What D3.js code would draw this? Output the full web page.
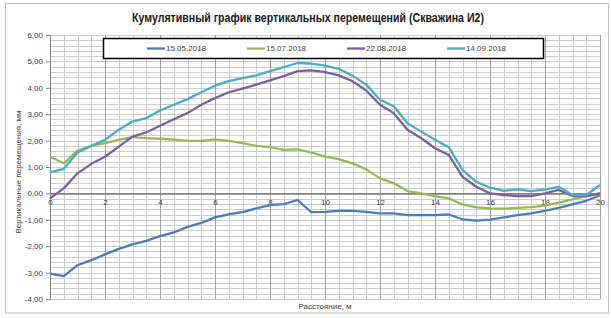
<!DOCTYPE html>
<html>
<head>
<meta charset="utf-8">
<script src="https://cdn.jsdelivr.net/npm/d3@7"></script>
<style>
body { margin: 0; background: #fff; }
text { font-family: "Liberation Sans", Arial, sans-serif; }
</style>
</head>
<body>
<svg width="611" height="318"></svg>
<script>
// distance along the borehole, m
var distance = [0, 0.5, 1, 1.5, 2, 2.5, 3, 3.5, 4, 4.5, 5, 5.5, 6, 6.5, 7, 7.5, 8, 8.5, 9, 9.5, 10,
    10.5, 11, 11.5, 12, 12.5, 13, 13.5, 14, 14.5, 15, 15.5, 16, 16.5, 17, 17.5, 18, 18.5, 19, 19.5, 20];

var dates = ["15.05.2018", "15.07.2018", "22.08.2018", "14.09.2018"];

var s0515 = [-3.04, -3.13, -2.72, -2.53, -2.31, -2.10, -1.93, -1.80, -1.62, -1.48, -1.27,
    -1.12, -0.91, -0.79, -0.71, -0.57, -0.44, -0.41, -0.25, -0.71, -0.70,
    -0.66, -0.66, -0.70, -0.76, -0.76, -0.82, -0.82, -0.82, -0.80, -0.98,
    -1.03, -0.99, -0.91, -0.82, -0.76, -0.66, -0.55, -0.42, -0.28, -0.07];
var s0715 = [1.39, 1.14, 1.62, 1.80, 1.90, 2.03, 2.13, 2.09, 2.07, 2.04, 2.00,
    1.99, 2.05, 1.99, 1.90, 1.80, 1.75, 1.65, 1.67, 1.55, 1.39,
    1.30, 1.14, 0.91, 0.57, 0.38, 0.09, 0.00, -0.10, -0.19, -0.42,
    -0.53, -0.57, -0.58, -0.55, -0.52, -0.46, -0.35, -0.23, -0.10, 0.00];
var s0822 = [-0.19, 0.19, 0.76, 1.12, 1.39, 1.77, 2.15, 2.31, 2.56, 2.81, 3.04,
    3.36, 3.61, 3.83, 3.97, 4.12, 4.28, 4.44, 4.63, 4.66, 4.59,
    4.47, 4.25, 3.90, 3.36, 3.04, 2.41, 2.09, 1.71, 1.46, 0.63,
    0.25, 0.00, -0.06, -0.10, -0.10, 0.00, 0.13, -0.10, -0.10, 0.00];
var s0914 = [0.80, 0.93, 1.55, 1.80, 2.03, 2.41, 2.72, 2.85, 3.14, 3.36, 3.57,
    3.83, 4.08, 4.25, 4.37, 4.47, 4.63, 4.78, 4.94, 4.92, 4.84,
    4.72, 4.46, 4.12, 3.55, 3.30, 2.66, 2.34, 2.03, 1.75, 0.89,
    0.44, 0.22, 0.10, 0.15, 0.09, 0.15, 0.25, -0.06, -0.06, 0.32];

var xTicks = [0, 2, 4, 6, 8, 10, 12, 14, 16, 18, 20];
var yTicks = [-4, -3, -2, -1, 0, 1, 2, 3, 4, 5, 6];

var series = [s0515, s0715, s0822, s0914];
var colors = ["#4a7ebb", "#98b954", "#7d5fa0", "#4bacc6"];

var svg = d3.select("svg"),
    margin = {top: 35, right: 11, bottom: 19, left: 50},
    width = +svg.attr("width") - margin.left - margin.right,
    height = +svg.attr("height") - margin.top - margin.bottom;

// chart frame
svg.append("rect")
    .attr("x", 5.5).attr("y", 3.5)
    .attr("width", 603).attr("height", 309.5)
    .attr("fill", "none")
    .attr("stroke", "#bfbfbf");

var x = d3.scaleLinear().domain([0, 20]).range([0, width]);
var y = d3.scaleLinear().domain([-4, 6]).range([height, 0]);

var g = svg.append("g")
    .attr("transform", "translate(" + margin.left + "," + margin.top + ")");

// minor grid
g.append("g").selectAll("line")
    .data(d3.range(-4, 6.001, 0.2))
    .enter().append("line")
    .attr("x1", 0).attr("x2", width)
    .attr("y1", function(d) { return Math.round(y(d)) + 0.5; })
    .attr("y2", function(d) { return Math.round(y(d)) + 0.5; })
    .attr("stroke", "#cccccc");

g.append("g").selectAll("line")
    .data(d3.range(0, 20.001, 0.5))
    .enter().append("line")
    .attr("y1", 0).attr("y2", height)
    .attr("x1", function(d) { return Math.round(x(d)) + 0.5; })
    .attr("x2", function(d) { return Math.round(x(d)) + 0.5; })
    .attr("stroke", "#cccccc");

// major vertical grid
g.append("g").selectAll("line")
    .data(xTicks)
    .enter().append("line")
    .attr("y1", 0).attr("y2", height)
    .attr("x1", function(d) { return Math.round(x(d)) + 0.5; })
    .attr("x2", function(d) { return Math.round(x(d)) + 0.5; })
    .attr("stroke", "#a3a3a3");

// y axis
g.append("g")
    .attr("class", "y axis")
    .call(d3.axisLeft(y).tickValues(yTicks).tickSizeOuter(0).tickSizeInner(4)
        .tickFormat(function(d) { return d3.format(".2f")(d).replace(".", ",").replace("−", "-"); }))
    .call(function(a) {
        a.select(".domain").attr("stroke", "#868686");
        a.selectAll(".tick line").attr("stroke", "#868686");
        a.selectAll("text").attr("font-size", 8).attr("fill", "#404040").attr("x", -7);
    });

// x axis on the zero line
g.append("g")
    .attr("class", "x axis")
    .attr("transform", "translate(0," + y(0) + ")")
    .call(d3.axisBottom(x).tickValues(xTicks).tickSizeOuter(0).tickSizeInner(0).tickPadding(6))
    .call(function(a) {
        a.select(".domain").attr("stroke", "#808080").attr("stroke-width", 1.6);
        a.selectAll("text").attr("font-size", 8).attr("fill", "#404040");
    });

// series lines
var line = d3.line()
    .x(function(d, i) { return x(distance[i]); })
    .y(function(d) { return y(d); });

g.selectAll(".series")
    .data(series)
    .enter().append("path")
    .attr("class", "series")
    .attr("d", line)
    .attr("fill", "none")
    .attr("stroke", function(d, i) { return colors[i]; })
    .attr("stroke-width", 2.3)
    .attr("stroke-linejoin", "round");

// legend
var legend = svg.append("g");
legend.append("rect")
    .attr("x", 103.5).attr("y", 38.5)
    .attr("width", 440).attr("height", 20)
    .attr("fill", "#fff")
    .attr("stroke", "#000")
    .attr("stroke-width", 1.5);

var item = legend.selectAll(".item")
    .data(dates)
    .enter().append("g")
    .attr("class", "item")
    .attr("transform", function(d, i) { return "translate(" + (147 + i * 100) + ",48.5)"; });

item.append("line")
    .attr("x1", 0).attr("x2", 18)
    .attr("stroke", function(d, i) { return colors[i]; })
    .attr("stroke-width", 2.3);

item.append("text")
    .attr("x", 19).attr("dy", "0.35em")
    .attr("font-size", 8)
    .attr("fill", "#404040")
    .text(function(d) { return d; });

// titles
svg.append("text")
    .attr("x", 308).attr("y", 22)
    .attr("text-anchor", "middle")
    .attr("font-size", 12)
    .attr("font-weight", "bold")
    .attr("fill", "#1a1a1a")
    .attr("textLength", 352)
    .attr("lengthAdjust", "spacingAndGlyphs")
    .text("Кумулятивный график вертикальных перемещений (Скважина И2)");

svg.append("text")
    .attr("transform", "translate(21," + (margin.top + height / 2 + 5) + ") rotate(-90)")
    .attr("text-anchor", "middle")
    .attr("font-size", 8)
    .attr("fill", "#404040")
    .text("Вертикальные перемещения, мм");

svg.append("text")
    .attr("x", 325).attr("y", 309)
    .attr("text-anchor", "middle")
    .attr("font-size", 8)
    .attr("fill", "#404040")
    .text("Расстояние, м");
</script>
</body>
</html>
